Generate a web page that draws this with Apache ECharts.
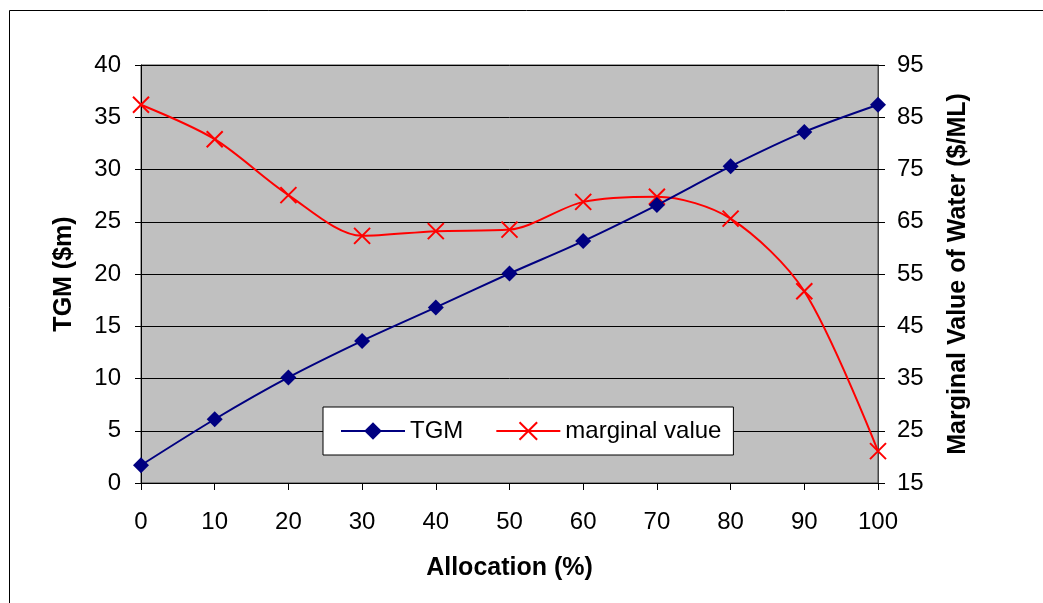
<!DOCTYPE html>
<html>
<head>
<meta charset="utf-8">
<script src="https://cdn.jsdelivr.net/npm/echarts@6/dist/echarts.min.js"></script>
<style>
  html, body { margin: 0; padding: 0; background: #fff; }
  #chart { width: 1043px; height: 603px; }
</style>
</head>
<body>
<div id="chart"></div>
<script>
// Allocation levels (%)
var allocation = [0, 10, 20, 30, 40, 50, 60, 70, 80, 90, 100];
// Total gross margin ($m), left axis
var tgm = [1.7, 6.1, 10.1, 13.6, 16.8, 20.05, 23.15, 26.6, 30.3, 33.6, 36.2];
// Marginal value of water ($/ML), right axis
var marginalValue = [87.4, 80.8, 70.1, 62.3, 63.2, 63.5, 68.8, 69.8, 65.6, 51.7, 21.1];

var FONT = '"Liberation Sans", Arial, sans-serif';

function pairs(xs, ys) {
  return xs.map(function (x, i) { return [x, ys[i]]; });
}

var chart = echarts.init(document.getElementById('chart'), null, { renderer: 'canvas' });

chart.setOption({
  animation: false,
  backgroundColor: '#fff',
  textStyle: { fontFamily: FONT },
  graphic: [{
    type: 'rect',
    left: 7, top: 8,
    shape: { width: 1200, height: 800 },
    style: { fill: 'none', stroke: '#000', lineWidth: 1 },
    silent: true,
    z: -10
  }],
  grid: {
    left: 141, right: 165, top: 65, bottom: 120,
    show: true,
    backgroundColor: '#c0c0c0',
    borderColor: '#444',
    borderWidth: 1
  },
  legend: {
    left: 323, top: 407,
    orient: 'horizontal',
    backgroundColor: '#fff',
    borderColor: '#000',
    borderWidth: 1,
    borderRadius: 0,
    padding: [12, 12, 12, 17],
    itemGap: 32,
    itemWidth: 64,
    itemHeight: 22,
    textStyle: { fontFamily: FONT, fontSize: 24, color: '#000', lineHeight: 24 },
    data: ['TGM', 'marginal value']
  },
  xAxis: {
    type: 'value',
    min: 0, max: 100, interval: 10,
    name: 'Allocation (%)',
    nameLocation: 'middle',
    nameGap: 73,
    nameTextStyle: { fontFamily: FONT, fontSize: 25, fontWeight: 'bold', color: '#000' },
    axisLine: { lineStyle: { color: '#000', width: 1 } },
    axisTick: { show: true, length: 7, lineStyle: { color: '#000' } },
    axisLabel: { fontFamily: FONT, fontSize: 24, color: '#000', margin: 27 },
    splitLine: { show: false }
  },
  yAxis: [{
    type: 'value',
    position: 'left',
    min: 0, max: 40, interval: 5,
    name: 'TGM ($m)',
    nameLocation: 'middle',
    nameRotate: 90,
    nameGap: 64,
    nameTextStyle: { fontFamily: FONT, fontSize: 25, fontWeight: 'bold', color: '#000' },
    axisLine: { show: true, lineStyle: { color: '#000', width: 1 } },
    axisTick: { show: true, length: 6, lineStyle: { color: '#000' } },
    axisLabel: { fontFamily: FONT, fontSize: 24, color: '#000', margin: 20 },
    splitLine: { show: true, lineStyle: { color: '#000', width: 1 } }
  }, {
    type: 'value',
    position: 'right',
    min: 15, max: 95, interval: 10,
    name: 'Marginal Value of Water ($/ML)',
    nameLocation: 'middle',
    nameRotate: 90,
    nameGap: 68,
    nameTextStyle: { fontFamily: FONT, fontSize: 25, fontWeight: 'bold', color: '#000' },
    axisLine: { show: true, lineStyle: { color: '#444', width: 1 } },
    axisTick: { show: true, length: 7, lineStyle: { color: '#000' } },
    axisLabel: { fontFamily: FONT, fontSize: 24, color: '#000', margin: 19 },
    splitLine: { show: false }
  }],
  series: [{
    name: 'TGM',
    type: 'line',
    yAxisIndex: 0,
    data: pairs(allocation, tgm),
    smooth: 0.3,
    symbol: 'diamond',
    symbolSize: 16,
    color: '#000080',
    lineStyle: { color: '#000080', width: 2 },
    itemStyle: { color: '#000080' },
    z: 3
  }, {
    name: 'marginal value',
    type: 'line',
    yAxisIndex: 1,
    data: pairs(allocation, marginalValue),
    smooth: 0.3,
    symbol: 'path://M0,0L10,10M10,0L0,10',
    symbolSize: 16,
    color: '#ff0000',
    lineStyle: { color: '#ff0000', width: 2 },
    itemStyle: { color: '#ff0000', borderColor: '#ff0000', borderWidth: 2 },
    z: 2
  }]
});
</script>
</body>
</html>
